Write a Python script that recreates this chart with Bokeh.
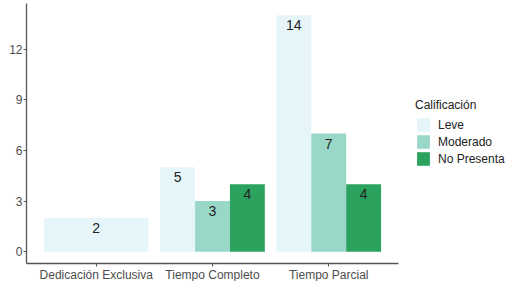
from bokeh.plotting import figure
from bokeh.models import (ColumnDataSource, Range1d, FixedTicker, Legend, LegendItem, LabelSet)
from bokeh.core.properties import value
from bokeh.embed import file_html
from bokeh.resources import INLINE

categories = ["Dedicación Exclusiva", "Tiempo Completo", "Tiempo Parcial"]
series_names = ["Leve", "Moderado", "No Presenta"]
leve = [2, 5, 14]
moderado = [None, 3, 7]
no_presenta = [None, 4, 4]
colors = ["#e5f5f9", "#99d8c9", "#2ca25f"]
y_ticks = [0, 3, 6, 9, 12]

values = [leve, moderado, no_presenta]
FONT = "Liberation Sans"

p = figure(frame_width=372, frame_height=260, output_backend="svg", toolbar_location=None,
           x_range=Range1d(0.4, 3.6), y_range=Range1d(-0.7, 14.7),
           min_border_top=3, min_border_left=26, min_border_bottom=17, min_border_right=108)

# dodge positions (ggplot-like: bars share the 0.9 slot among present series)
total_w = 0.9
series_xs = {s: [] for s in range(3)}
series_ys = {s: [] for s in range(3)}
series_ws = {s: [] for s in range(3)}
for ci in range(len(categories)):
    present = [s for s in range(3) if values[s][ci] is not None]
    w = total_w / len(present)
    for k, s in enumerate(present):
        series_xs[s].append(ci + 1 - total_w / 2 + w * (k + 0.5))
        series_ys[s].append(values[s][ci])
        series_ws[s].append(w)

items = []
for s in range(3):
    src = ColumnDataSource(dict(x=series_xs[s], top=series_ys[s], w=series_ws[s],
                                lbl=[str(v) for v in series_ys[s]]))
    r = p.vbar(x="x", top="top", width="w", bottom=0, source=src,
               fill_color=colors[s], line_color=None)
    items.append(LegendItem(label=series_names[s], renderers=[r]))
    p.add_layout(LabelSet(x="x", y="top", text="lbl", source=src, y_offset=-10,
                          text_align="center", text_baseline="middle",
                          text_font=value(FONT), text_font_size=value("14px"),
                          text_color="#222222"))

legend = Legend(items=items, location=(17, 96), title="Calificación",
                title_text_font=FONT, title_text_font_size="12px", title_text_color="#222222",
                title_text_font_style="normal",
                label_text_font=FONT, label_text_font_size="12px", label_text_color="#222222",
                glyph_width=16, glyph_height=17, spacing=0, label_standoff=7,
                label_height=17, border_line_color=None, background_fill_alpha=0,
                padding=4, margin=0, title_standoff=4)
p.add_layout(legend, "right")

p.xgrid.visible = False
p.ygrid.visible = False
p.outline_line_color = None

p.xaxis.ticker = FixedTicker(ticks=[1, 2, 3])
p.xaxis.major_label_overrides = {1: categories[0], 2: categories[1], 3: categories[2]}
p.yaxis.ticker = FixedTicker(ticks=y_ticks)

for ax in (p.xaxis[0], p.yaxis[0]):
    ax.axis_line_color = "#555555"
    ax.axis_line_width = 1.3
    ax.major_tick_line_color = "#555555"
    ax.major_tick_in = 0
    ax.major_tick_out = 3
    ax.minor_tick_line_color = None
    ax.major_label_text_font = FONT
    ax.major_label_text_font_size = "12px"
    ax.major_label_text_color = "#4d4d4d"
    ax.major_label_standoff = 1

open("out.html", "w").write(file_html(p, INLINE))
